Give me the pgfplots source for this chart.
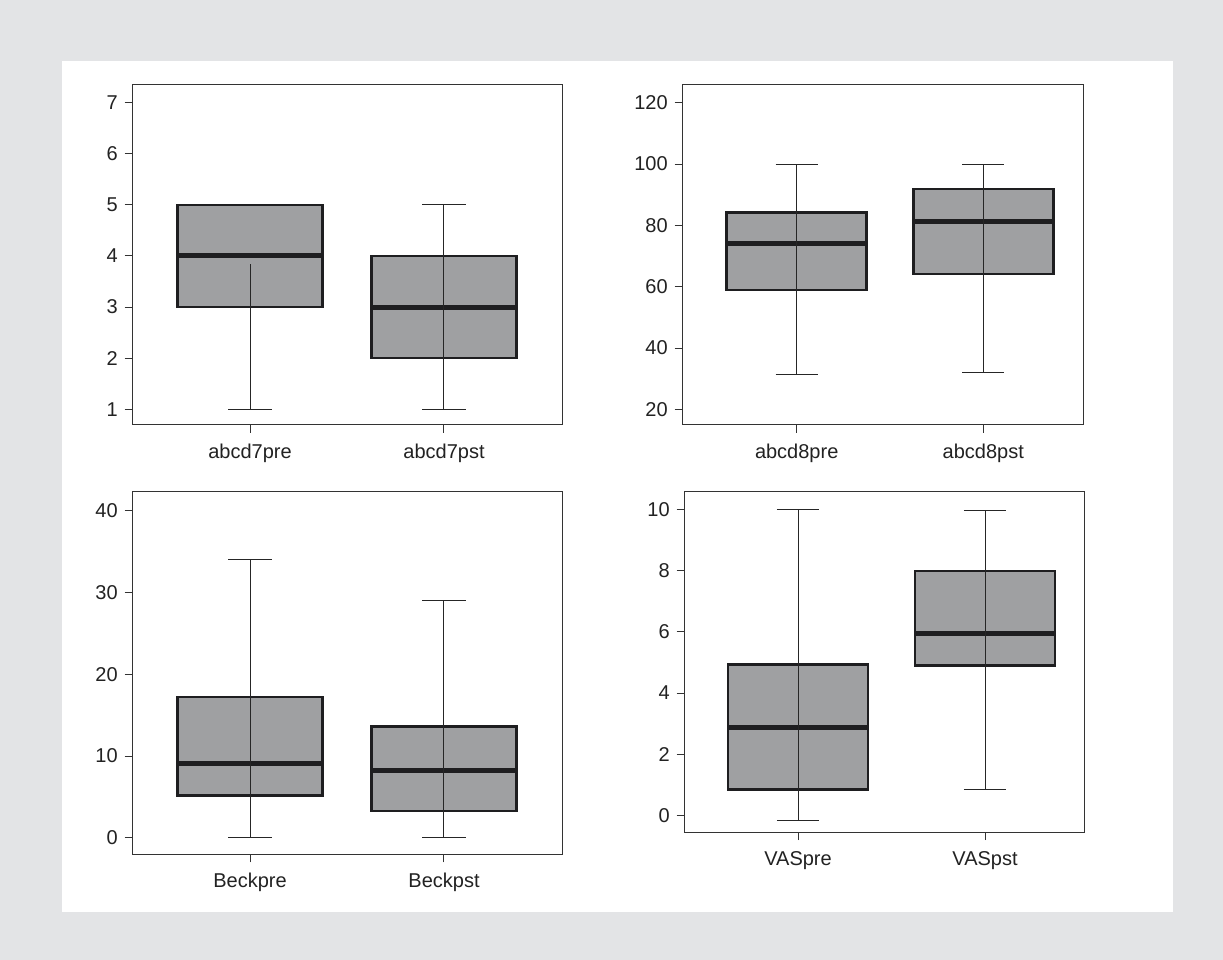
\documentclass[border=0pt]{standalone}
\usepackage{fontspec}
\setmainfont{Liberation Sans}
\usepackage{pgfplots}
\pgfplotsset{compat=1.18}
\usepgfplotslibrary{statistics}
\definecolor{bgcol}{HTML}{E3E4E6}
\definecolor{boxgray}{HTML}{9FA0A2}
\definecolor{edgecol}{HTML}{1E1E20}
\definecolor{axcol}{HTML}{333333}
\definecolor{txtcol}{HTML}{222222}
\pgfplotsset{
  panel/.style={
    scale only axis,
    axis line style={draw=axcol, line width=0.5pt},
    tick style={draw=axcol, line width=0.5pt},
    major tick length=4pt,
    tick align=outside,
    xtick pos=lower, ytick pos=left,
    xtick={1,2},
    tick label style={font=\fontsize{10}{12}\selectfont, text=txtcol},
    xticklabel style={yshift=-2pt},
    /pgf/number format/assume math mode=true,
    /pgf/number format/1000 sep={},
    boxplot/draw direction=y,
    boxplot/box extend=0.75,
    boxplot/whisker extend=0,
    boxplot/every box/.style={draw=edgecol, fill=boxgray, line width=1.3pt},
    boxplot/every whisker/.style={draw=none},
    boxplot/every median/.style={draw=edgecol, line width=2.5pt},
  },
  whisk/.style={draw=black!85, line width=0.5pt},
}
% pos, lower whisker, q1, median, q3, upper whisker
\newcommand{\bx}[6]{%
  \addplot[draw=edgecol, boxplot prepared={draw position=#1, lower whisker=#3, lower quartile=#3, median=#4, upper quartile=#5, upper whisker=#5}] coordinates {};
  \addplot[whisk] coordinates {(#1,#2) (#1,#6)};
  \addplot[whisk] coordinates {(#1-0.1125,#2) (#1+0.1125,#2)};
  \addplot[whisk] coordinates {(#1-0.1125,#6) (#1+0.1125,#6)};
}
\begin{document}
\begin{tikzpicture}
\fill[bgcol] (0,0) rectangle (611.5pt,480pt);
\fill[white] (31.15pt,23.85pt) rectangle (586.65pt,449.35pt);

% top-left
\begin{axis}[panel, at={(66.35pt,267.5pt)}, anchor=south west,
  width=214.8pt, height=170.35pt,
  xmin=0.395, xmax=2.61, ymin=0.69, ymax=7.36,
  ytick={1,2,3,4,5,6,7},
  xticklabels={abcd7pre,abcd7pst}]
  \addplot[draw=edgecol, boxplot prepared={draw position=1, lower whisker=3, lower quartile=3, median=4, upper quartile=5, upper whisker=5}] coordinates {};
  \addplot[whisk] coordinates {(1,1) (1,3.84)};
  \addplot[whisk] coordinates {(0.8875,1) (1.1125,1)};
  \bx{2}{1}{2}{3}{4}{5}
\end{axis}

% top-right
\begin{axis}[panel, at={(341.35pt,267.5pt)}, anchor=south west,
  width=200.3pt, height=170.35pt,
  xmin=0.389, xmax=2.536, ymin=14.9, ymax=126,
  ytick={20,40,60,80,100,120},
  xticklabels={abcd8pre,abcd8pst}]
  \bx{1}{31.3}{58.9}{74.2}{84.1}{100}
  \bx{2}{31.9}{64.1}{81.1}{91.9}{100}
\end{axis}

% bottom-left
\begin{axis}[panel, at={(66.35pt,52.85pt)}, anchor=south west,
  width=214.8pt, height=181.3pt,
  xmin=0.395, xmax=2.61, ymin=-2.0, ymax=42.3,
  ytick={0,10,20,30,40},
  xticklabels={Beckpre,Beckpst}]
  \bx{1}{0}{5.2}{9.1}{17.2}{34}
  \bx{2}{0}{3.3}{8.2}{13.6}{29}
\end{axis}

% bottom-right
\begin{axis}[panel, at={(342.35pt,64pt)}, anchor=south west,
  width=199.8pt, height=170.15pt,
  xmin=0.394, xmax=2.531, ymin=-0.53, ymax=10.57,
  ytick={0,2,4,6,8,10},
  xticklabels={VASpre,VASpst}]
  \bx{1}{-0.16}{0.86}{2.87}{4.93}{10}
  \bx{2}{0.85}{4.9}{5.93}{7.98}{9.95}
\end{axis}
\end{tikzpicture}
\end{document}
